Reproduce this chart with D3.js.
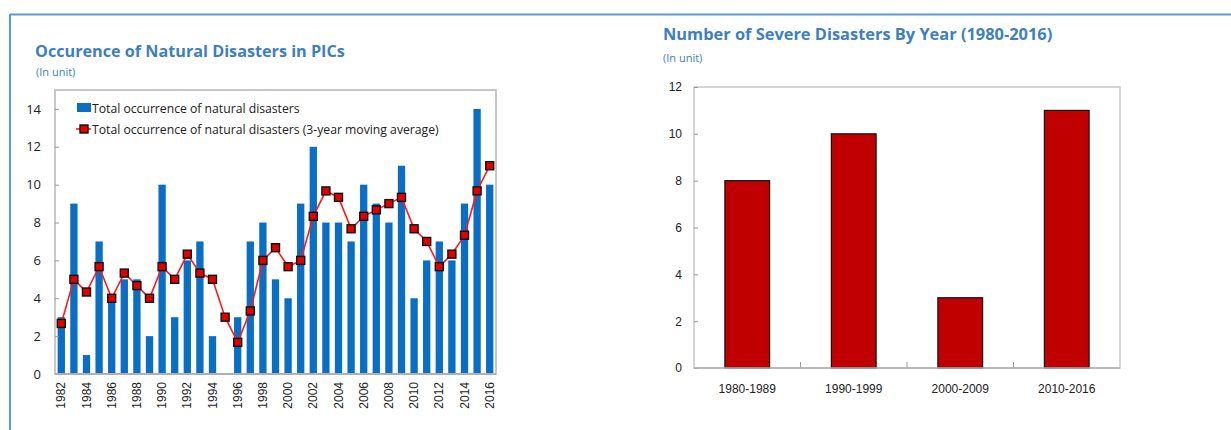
<!DOCTYPE html>
<html><head><meta charset="utf-8">
<script src="https://cdn.jsdelivr.net/npm/d3@7/dist/d3.min.js"></script>
<style>
body{margin:0;background:#fff;}
svg{display:block;font-family:"Open Sans","Noto Sans",sans-serif;}
</style></head>
<body><svg id="c" width="1231" height="430"></svg>
<script>
// ---- Data: left chart ----
const years = [1982,1983,1984,1985,1986,1987,1988,1989,1990,1991,1992,1993,1994,1995,1996,1997,1998,1999,2000,2001,2002,2003,2004,2005,2006,2007,2008,2009,2010,2011,2012,2013,2014,2015,2016];
const occurrences = [3,9,1,7,4,5,5,2,10,3,6,7,2,0,3,7,8,5,4,9,12,8,8,7,10,9,8,11,4,6,7,6,9,14,10];
const movingAvg = [2.67,5,4.33,5.67,4,5.33,4.67,4,5.67,5,6.33,5.33,5,3,1.67,3.33,6,6.67,5.67,6,8.33,9.67,9.33,7.67,8.33,8.67,9,9.33,7.67,7,5.67,6.33,7.33,9.67,11];
const leftYTicks = [0,2,4,6,8,10,12,14];
const leftTitle = "Occurence of Natural Disasters in PICs";
const leftSub = "(In unit)";
const legendLabels = ["Total occurrence of natural disasters","Total occurrence of natural disasters (3-year moving average)"];

// ---- Data: right chart ----
const decades = ["1980-1989","1990-1999","2000-2009","2010-2016"];
const severe = [8,10,3,11];
const rightYTicks = [0,2,4,6,8,10,12];
const rightTitle = "Number of Severe Disasters By Year (1980-2016)";
const rightSub = "(In unit)";

const svg = d3.select("#c");
const titleColor = "#3d7fc1";
const frameColor = "#5b9bd5";

// outer frame
svg.append("line").attr("x1",10).attr("x2",1231).attr("y1",14.5).attr("y2",14.5).attr("stroke",frameColor).attr("stroke-width",2);
svg.append("line").attr("x1",10).attr("x2",10).attr("y1",14).attr("y2",430).attr("stroke",frameColor).attr("stroke-width",2);

// ===== Left chart =====
const L = {x0:55, x1:496, y0:90, y1:374};
svg.append("text").attr("x",35).attr("y",57).attr("fill",titleColor).attr("font-weight","bold").attr("font-size",16.2).text(leftTitle);
svg.append("text").attr("x",36).attr("y",76).attr("fill",titleColor).attr("font-size",11).text(leftSub);

const xL = d3.scaleBand().domain(years).range([L.x0, L.x1]).paddingInner(0.42).paddingOuter(0.21);
const yL = d3.scaleLinear().domain([0,15]).range([L.y1, L.y0]);

const gL = svg.append("g");
gL.append("rect").attr("x",L.x0).attr("y",L.y0).attr("width",L.x1-L.x0).attr("height",L.y1-L.y0)
  .attr("fill","none").attr("stroke","#c8c8c8").attr("stroke-width",2);

gL.selectAll("rect.bar").data(years).join("rect").attr("class","bar")
  .attr("x",d=>xL(d)).attr("width",xL.bandwidth())
  .attr("y",(d,i)=>yL(occurrences[i])).attr("height",(d,i)=>yL(0)-yL(occurrences[i]))
  .attr("fill","#0a6fc4");

// y axis
const yAxL = d3.axisLeft(yL).tickValues(leftYTicks).tickSize(-4).tickPadding(14);
const gyL = gL.append("g").attr("transform",`translate(${L.x0},0)`).call(yAxL);
gyL.select(".domain").remove();
gyL.selectAll("line").attr("stroke","#999");
gyL.selectAll("text").attr("font-size",13).attr("fill","#222").attr("font-family","Open Sans, sans-serif");

// x axis
const xAxL = d3.axisBottom(xL).tickValues(years.filter((d,i)=>i%2===0)).tickSize(0).tickFormat(d3.format("d"));
const gxL = gL.append("g").attr("transform",`translate(0,${L.y1})`).call(xAxL);
gxL.select(".domain").remove();
gxL.selectAll("text").attr("font-size",12).attr("fill","#222")
  .attr("transform","rotate(-90)").attr("text-anchor","end").attr("dx","-8").attr("dy","0").attr("y",0).attr("x",0)
  .attr("dominant-baseline","central");

// bottom axis line
gL.append("line").attr("x1",L.x0).attr("x2",L.x1).attr("y1",L.y1).attr("y2",L.y1).attr("stroke","#b0b0b0").attr("stroke-width",2);

// moving average line
const line = d3.line().x((d,i)=>xL(years[i])+xL.bandwidth()/2).y(d=>yL(d));
gL.append("path").datum(movingAvg).attr("d",line).attr("fill","none").attr("stroke","#ff1a1a").attr("stroke-width",1.6);
gL.selectAll("rect.mk").data(movingAvg).join("rect").attr("class","mk")
  .attr("x",(d,i)=>xL(years[i])+xL.bandwidth()/2-4).attr("y",d=>yL(d)-4)
  .attr("width",8).attr("height",8).attr("fill","#e00000").attr("stroke","#111").attr("stroke-width",1.4);

// legend
const lg = gL.append("g");
lg.append("rect").attr("x",77).attr("y",103).attr("width",14).attr("height",9).attr("fill","#0a6fc4");
lg.append("text").attr("x",92).attr("y",113).attr("font-size",12.2).attr("fill","#222").text(legendLabels[0]);
lg.append("line").attr("x1",76).attr("x2",91).attr("y1",129).attr("y2",129).attr("stroke","#ff1a1a").attr("stroke-width",1.6);
lg.append("rect").attr("x",80).attr("y",125).attr("width",8).attr("height",8).attr("fill","#e00000").attr("stroke","#111").attr("stroke-width",1.4);
lg.append("text").attr("x",92).attr("y",134).attr("font-size",12.2).attr("fill","#222").text(legendLabels[1]);

// ===== Right chart =====
const R = {x0:694, x1:1120, y0:87, y1:368};
svg.append("text").attr("x",663).attr("y",40).attr("fill",titleColor).attr("font-weight","bold").attr("font-size",16.4).text(rightTitle);
svg.append("text").attr("x",663).attr("y",62).attr("fill",titleColor).attr("font-size",11).text(rightSub);

const xR = d3.scaleBand().domain(decades).range([R.x0,R.x1]).paddingInner(0.58).paddingOuter(0.29);
const xR0 = d3.scaleBand().domain(decades).range([R.x0,R.x1]);
const yR = d3.scaleLinear().domain([0,12]).range([R.y1,R.y0]);
const gR = svg.append("g");
gR.append("rect").attr("x",R.x0).attr("y",R.y0).attr("width",R.x1-R.x0).attr("height",R.y1-R.y0)
  .attr("fill","none").attr("stroke","#c8c8c8").attr("stroke-width",1.5);

gR.selectAll("rect.bar").data(decades).join("rect").attr("class","bar")
  .attr("x",d=>xR(d)).attr("width",xR.bandwidth())
  .attr("y",(d,i)=>yR(severe[i])).attr("height",(d,i)=>yR(0)-yR(severe[i]))
  .attr("fill","#c00000").attr("stroke","#111").attr("stroke-width",1.2);

const gyR = gR.append("g").attr("transform",`translate(${R.x0},0)`).call(d3.axisLeft(yR).tickValues(rightYTicks).tickSize(-4).tickPadding(12));
gyR.select(".domain").remove();
gyR.selectAll("line").attr("stroke","#999");
gyR.selectAll("text").attr("font-size",12).attr("fill","#222");

const gxR = gR.append("g").attr("transform",`translate(0,${R.y1})`).call(d3.axisBottom(xR0).tickSize(0).tickPadding(16));
gxR.select(".domain").remove();
gxR.selectAll("text").attr("font-size",12).attr("fill","#222");
// category separator ticks
gR.selectAll("line.sep").data(decades.slice(1)).join("line").attr("class","sep")
  .attr("x1",d=>xR0(d)).attr("x2",d=>xR0(d)).attr("y1",R.y1).attr("y2",R.y1-6).attr("stroke","#999");
gR.append("line").attr("x1",R.x0).attr("x2",R.x1).attr("y1",R.y1).attr("y2",R.y1).attr("stroke","#b0b0b0").attr("stroke-width",1.5);
</script></body></html>
